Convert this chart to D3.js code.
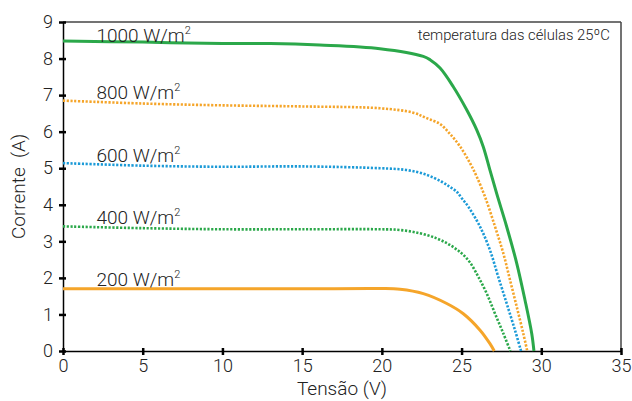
<!DOCTYPE html>
<html><head><meta charset="utf-8">
<script src="https://cdn.jsdelivr.net/npm/d3@7"></script>
<style>
body{margin:0;background:#fff;}
text{font-family:Roboto,"Open Sans",sans-serif;font-weight:300;fill:#222;}
</style></head>
<body><svg id="c" width="632" height="401"></svg>
<script>
const xTicks = [0,5,10,15,20,25,30,35];
const yTicks = [0,1,2,3,4,5,6,7,8,9];
const v1000 = [0,5,10,13,16.1,19.88,22.6,23.02,23.65,24.48,25.32,25.95,26.36,26.78,27.2,27.83,28.46,28.98,29.4,29.54];
const i1000 = [8.48,8.45,8.41,8.41,8.37,8.27,8.06,7.97,7.74,7.23,6.60,6.05,5.59,4.95,4.31,3.40,2.40,1.39,0.48,0];
const v800 = [0,5,10,15,19.88,21.97,22.81,23.65,24.27,24.9,25.53,25.95,26.47,27.1,27.62,28.04,28.46,28.87,29.12];
const i800 = [6.85,6.77,6.72,6.69,6.64,6.52,6.37,6.21,5.94,5.60,5.14,4.77,4.22,3.40,2.67,1.94,1.21,0.48,0];
const v600 = [0,5,10,15,19.88,21.56,22.81,23.75,24.27,24.69,25.01,25.42,26.16,26.78,27.3,27.83,28.35,28.73];
const i600 = [5.14,5.07,5.04,5.05,5.0,4.95,4.82,4.63,4.49,4.36,4.18,3.95,3.40,2.76,2.03,1.30,0.57,0];
const v400 = [0,5,10,15,19.88,21.14,22.39,23.44,24.27,25.01,25.53,26.05,26.58,27.1,27.62,28.06];
const i400 = [3.41,3.36,3.33,3.33,3.33,3.31,3.22,3.08,2.90,2.67,2.42,2.03,1.57,1.02,0.48,0];
const v200 = [0,5,10,15,19.88,21.14,22.6,24.07,25.11,26.16,26.78,27.05];
const i200 = [1.70,1.70,1.70,1.70,1.71,1.69,1.57,1.30,1.02,0.57,0.20,0];
const labels = ["1000 W/m","800 W/m","600 W/m","400 W/m","200 W/m"];
const labelI = [8.45,6.88,5.17,3.48,1.79];
const colors = ["#2ba84a","#f5a52a","#1b9ad7","#2ba84a","#f5a52a"];
const dashed = [false,true,true,true,false];
const xTitle = "Tensão (V)";
const yTitle = "Corrente\u00a0\u00a0(A)";
const note = "temperatura das células 25ºC";

const svg = d3.select("#c");
const m = {l:63,r:11,t:22,b:50};
const W = 632, H = 401;
const x = d3.scaleLinear().domain([0,35]).range([m.l, W-m.r]);
const y = d3.scaleLinear().domain([0,9]).range([H-m.b, m.t]);

// frame
svg.append("line").attr("x1",x(0)).attr("x2",x(35)).attr("y1",y(9)).attr("y2",y(9)).attr("stroke","#444").attr("stroke-width",1.5);
svg.append("line").attr("x1",x(35)).attr("x2",x(35)).attr("y1",y(9)).attr("y2",y(0)).attr("stroke","#444").attr("stroke-width",1.5);

const xa = svg.append("g").attr("transform",`translate(0,${y(0)})`)
  .call(d3.axisBottom(x).tickValues(xTicks).tickSizeInner(4).tickSizeOuter(0).tickPadding(4));
xa.selectAll(".tick line").attr("y1",-3).attr("stroke-width",2.5).attr("stroke","#000");
xa.select(".domain").attr("stroke","#000").attr("stroke-width",1.5);
xa.selectAll("text").attr("font-size",18).attr("fill","#222").attr("font-family","Roboto").attr("font-weight",300);

const ya = svg.append("g").attr("transform",`translate(${x(0)},0)`)
  .call(d3.axisLeft(y).tickValues(yTicks).tickSizeInner(4).tickSizeOuter(0).tickPadding(6));
ya.selectAll(".tick line").attr("x1",-4).attr("x2",3).attr("stroke-width",2.5).attr("stroke","#000");
ya.select(".domain").attr("stroke","#000").attr("stroke-width",1.5);
ya.selectAll("text").attr("font-size",18).attr("fill","#222").attr("font-family","Roboto").attr("font-weight",300);

const data = [[v1000,i1000],[v800,i800],[v600,i600],[v400,i400],[v200,i200]];
const line = d3.line().x(d=>x(d[0])).y(d=>y(d[1])).curve(d3.curveCatmullRom.alpha(0.5));
data.forEach((s,k)=>{
  const pts = s[0].map((v,j)=>[v,s[1][j]]);
  const p = svg.append("path").attr("d",line(pts)).attr("fill","none")
    .attr("stroke",colors[k]).attr("stroke-width",dashed[k]?2.6:3);
  if(dashed[k]) p.attr("stroke-dasharray","2.2,1.6");
  const t = svg.append("text").attr("x",x(2.1)).attr("y",y(labelI[k])).attr("font-size",19).text(labels[k]);
  t.append("tspan").attr("font-size",11).attr("dy",-8).text("2");
});

svg.append("text").attr("x",x(34.3)).attr("y",y(8.5)).attr("text-anchor","end").attr("font-size",14.8).text(note);
svg.append("text").attr("x",(x(0)+x(35))/2).attr("y",H-6).attr("text-anchor","middle").attr("font-size",19).text(xTitle);
svg.append("text").attr("transform",`translate(25,${y(4.5)}) rotate(-90)`).attr("text-anchor","middle").attr("font-size",19).text(yTitle);
</script></body></html>
